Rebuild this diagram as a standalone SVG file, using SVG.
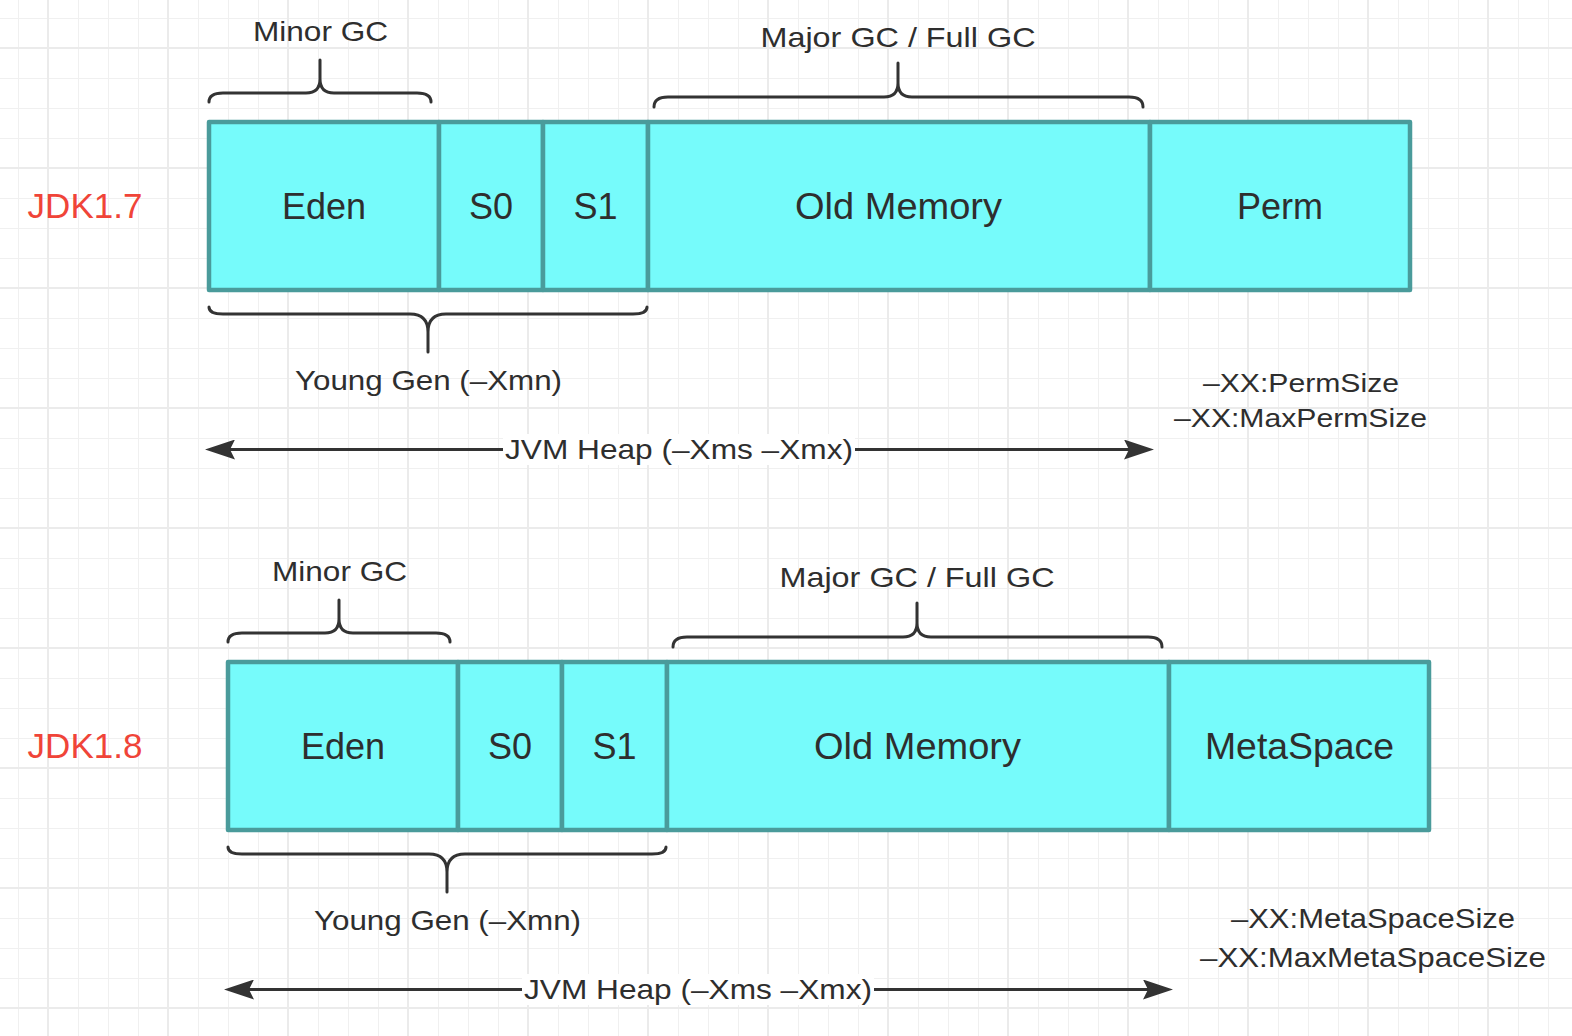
<svg xmlns="http://www.w3.org/2000/svg" width="1572" height="1036" viewBox="0 0 1572 1036">
<style>
.cell{fill:#76FBFB;stroke:#4A9B9B;stroke-width:4.5;stroke-linejoin:round}
.lbl{font-family:"Liberation Sans",Arial,sans-serif;fill:#2E2E2E;text-anchor:middle}
.big{font-size:36px}
.mid{font-size:28px}
.sm{font-size:26px}
.jdk{font-family:"Liberation Sans",Arial,sans-serif;font-size:35px;fill:#F04438;text-anchor:middle}
.brace{fill:none;stroke:#333333;stroke-width:3;stroke-linecap:round;stroke-linejoin:round}
.arrow{fill:none;stroke:#333333;stroke-width:3}
</style>
<defs>
<pattern id="minor" x="18" y="18" width="30" height="30" patternUnits="userSpaceOnUse">
<rect x="0" y="0" width="1" height="30" fill="#F0F0F0"/>
<rect x="0" y="0" width="30" height="1" fill="#F0F0F0"/>
</pattern>
<pattern id="major" x="47" y="47" width="120" height="120" patternUnits="userSpaceOnUse">
<rect x="0" y="0" width="2" height="120" fill="#EBEBEB"/>
<rect x="0" y="0" width="120" height="2" fill="#EBEBEB"/>
</pattern>
<marker id="ah" viewBox="0 0 30 20" refX="25" refY="10" markerWidth="30" markerHeight="20" markerUnits="userSpaceOnUse" orient="auto-start-reverse">
<path d="M0,0 L30,10 L0,20 L5,10 Z" fill="#333333"/>
</marker>
</defs>
<rect width="1572" height="1036" fill="#FFFFFF"/>
<rect width="1572" height="1036" fill="url(#minor)"/>
<rect width="1572" height="1036" fill="url(#major)"/>

<!-- JDK 1.7 -->
<g id="jdk17-label"><text class="jdk" x="85" y="218">JDK1.7</text></g>
<g id="jdk17-eden"><rect class="cell" x="209" y="122" width="230" height="168"/><text class="lbl big" x="324" y="219">Eden</text></g>
<g id="jdk17-s0"><rect class="cell" x="439" y="122" width="104" height="168"/><text class="lbl big" x="491" y="219">S0</text></g>
<g id="jdk17-s1"><rect class="cell" x="543" y="122" width="105" height="168"/><text class="lbl big" x="595.5" y="219">S1</text></g>
<g id="jdk17-old"><rect class="cell" x="648" y="122" width="502" height="168"/><text class="lbl big" x="898.5" y="219" textLength="207" lengthAdjust="spacingAndGlyphs">Old Memory</text></g>
<g id="jdk17-perm"><rect class="cell" x="1150" y="122" width="260" height="168"/><text class="lbl big" x="1280" y="219">Perm</text></g>
<g id="jdk17-minor-gc">
<path class="brace" d="M209,102 Q209,93 223,93 H306 Q320,93 320,79 V60 M320,79 Q320,93 334,93 H417 Q431,93 431,102"/>
<text class="lbl mid" x="320.5" y="41" textLength="135" lengthAdjust="spacingAndGlyphs">Minor GC</text>
</g>
<g id="jdk17-major-gc">
<path class="brace" d="M654,107 Q654,97 668,97 H884 Q898,97 898,83 V63 M898,83 Q898,97 912,97 H1129 Q1143,97 1143,107"/>
<text class="lbl mid" x="898" y="47" textLength="275" lengthAdjust="spacingAndGlyphs">Major GC / Full GC</text>
</g>
<g id="jdk17-young">
<path class="brace" d="M209,307 Q209,314 223,314 H410 Q428,314 428,332 V352 M428,332 Q428,314 446,314 H633 Q647,314 647,307"/>
<text class="lbl mid" x="428.5" y="390" textLength="267" lengthAdjust="spacingAndGlyphs">Young Gen (–Xmn)</text>
</g>
<g id="jdk17-perm-opts">
<text class="lbl sm" x="1301" y="392" textLength="196" lengthAdjust="spacingAndGlyphs">–XX:PermSize</text>
<text class="lbl sm" x="1300.5" y="427" textLength="253" lengthAdjust="spacingAndGlyphs">–XX:MaxPermSize</text>
</g>

<!-- JDK 1.8 -->
<g id="jdk18-label"><text class="jdk" x="85" y="758">JDK1.8</text></g>
<g id="jdk18-eden"><rect class="cell" x="228" y="662" width="230" height="168"/><text class="lbl big" x="343" y="759">Eden</text></g>
<g id="jdk18-s0"><rect class="cell" x="458" y="662" width="104" height="168"/><text class="lbl big" x="510" y="759">S0</text></g>
<g id="jdk18-s1"><rect class="cell" x="562" y="662" width="105" height="168"/><text class="lbl big" x="614.5" y="759">S1</text></g>
<g id="jdk18-old"><rect class="cell" x="667" y="662" width="502" height="168"/><text class="lbl big" x="917.5" y="759" textLength="207" lengthAdjust="spacingAndGlyphs">Old Memory</text></g>
<g id="jdk18-meta"><rect class="cell" x="1169" y="662" width="260" height="168"/><text class="lbl big" x="1299.5" y="759" textLength="189" lengthAdjust="spacingAndGlyphs">MetaSpace</text></g>
<g id="jdk18-minor-gc" transform="translate(19,540)">
<path class="brace" d="M209,102 Q209,93 223,93 H306 Q320,93 320,79 V60 M320,79 Q320,93 334,93 H417 Q431,93 431,102"/>
<text class="lbl mid" x="320.5" y="41" textLength="135" lengthAdjust="spacingAndGlyphs">Minor GC</text>
</g>
<g id="jdk18-major-gc" transform="translate(19,540)">
<path class="brace" d="M654,107 Q654,97 668,97 H884 Q898,97 898,83 V63 M898,83 Q898,97 912,97 H1129 Q1143,97 1143,107"/>
<text class="lbl mid" x="898" y="47" textLength="275" lengthAdjust="spacingAndGlyphs">Major GC / Full GC</text>
</g>
<g id="jdk18-young" transform="translate(19,540)">
<path class="brace" d="M209,307 Q209,314 223,314 H410 Q428,314 428,332 V352 M428,332 Q428,314 446,314 H633 Q647,314 647,307"/>
<text class="lbl mid" x="428.5" y="390" textLength="267" lengthAdjust="spacingAndGlyphs">Young Gen (–Xmn)</text>
</g>
<g id="jdk18-meta-opts">
<text class="lbl mid" x="1373" y="928" textLength="284" lengthAdjust="spacingAndGlyphs">–XX:MetaSpaceSize</text>
<text class="lbl mid" x="1373" y="967" textLength="346" lengthAdjust="spacingAndGlyphs">–XX:MaxMetaSpaceSize</text>
</g>

<!-- connectors -->
<g id="connectors">
<g id="jdk17-heap">
<line class="arrow" x1="210" y1="449.5" x2="1149" y2="449.5" marker-start="url(#ah)" marker-end="url(#ah)"/>
<rect x="503" y="434" width="352" height="31" fill="#FFFFFF"/>
<text class="lbl mid" x="679" y="459" textLength="348" lengthAdjust="spacingAndGlyphs">JVM Heap (–Xms –Xmx)</text>
</g>
<g id="jdk18-heap">
<line class="arrow" x1="229" y1="989.5" x2="1168" y2="989.5" marker-start="url(#ah)" marker-end="url(#ah)"/>
<rect x="522" y="974" width="352" height="31" fill="#FFFFFF"/>
<text class="lbl mid" x="698" y="999" textLength="348" lengthAdjust="spacingAndGlyphs">JVM Heap (–Xms –Xmx)</text>
</g>
</g>
</svg>
